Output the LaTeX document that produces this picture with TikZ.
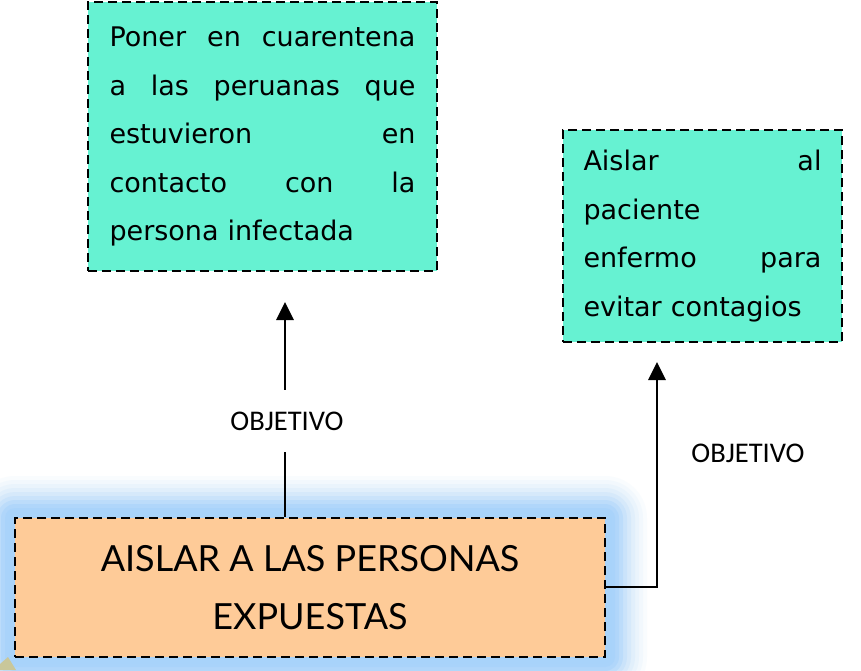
\documentclass[tikz,border=0pt]{standalone}
\usepackage{fontspec}
\setmainfont{DejaVu Sans}
\newfontfamily\labfont{Carlito}
\newfontfamily\capfont{Lato}
\usetikzlibrary{arrows.meta,calc}
\definecolor{aqua}{HTML}{66F2D2}
\definecolor{peach}{HTML}{FECB98}
\definecolor{glowblue}{HTML}{A8D3FA}
\definecolor{olivebit}{HTML}{C9C79A}
\newcommand{\jl}[2]{\leavevmode\hbox to #1{#2}}
\begin{document}
\begin{tikzpicture}[x=1pt,y=-1pt,
  boxstyle/.style={draw=black,line width=2.8pt,dash pattern=on 9pt off 5pt,inner sep=0pt},
  conn/.style={draw=black,line width=2.8pt},
  arrowtip/.style={-{Triangle[length=18pt,width=17pt]}},
  labstyle/.style={font=\labfont\fontsize{28.5}{32}\selectfont,text=black}]
\useasboundingbox (0,0) rectangle (861,670);
\fill[white] (0,0) rectangle (861,670);
% glow
\begin{scope}
\clip (0,0) rectangle (861,670);
\foreach \e/\o in {42/0.06,38/0.08,34/0.10,30/0.13,26/0.18,22/0.26,18/0.4,14/0.6,10/0.85,6/1}{
  \fill[glowblue,opacity=\o,rounded corners=\e pt] (15-\e,518-\e) rectangle (605+\e,657+\e);
}
\fill[olivebit] (0,664) -- (8,657) -- (16,670) -- (0,670) -- cycle;
\end{scope}
% nodes
\node[boxstyle,fill=aqua,minimum width=349pt,minimum height=269pt] (top) at (262.5,136.5) {};
\node[align=left,text width=306pt,font=\fontsize{27}{48.5}\selectfont,inner sep=0pt] (toptext) at (top.center) {%
\jl{306pt}{Poner\hfill en\hfill cuarentena}\\\jl{306pt}{a\hfill las\hfill peruanas\hfill que}\\\jl{306pt}{estuvieron\hfill en}\\\jl{306pt}{contacto\hfill con\hfill la}\\persona infectada};
\node[boxstyle,fill=aqua,minimum width=279pt,minimum height=212pt] (right) at (702.5,236) {};
\node[align=left,text width=238pt,font=\fontsize{27}{48.5}\selectfont,inner sep=0pt] (righttext) at (right.center) {%
\jl{238pt}{Aislar\hfill al}\\paciente\\\jl{238pt}{enfermo\hfill para}\\evitar contagios};
\node[boxstyle,fill=peach,minimum width=590pt,minimum height=139pt,align=center,
  font=\capfont\fontsize{36}{58}\selectfont] (bot) at (310,587.5) {AISLAR A LAS PERSONAS\\EXPUESTAS};
% connectors
\coordinate (lbase) at (bot.north -| 285,0);
\coordinate (ltip) at (285,302);
\draw[conn,arrowtip] (lbase) -- (ltip);
\node[labstyle,fill=white,minimum height=62pt,inner xsep=1pt] (lab1) at (287,421) {OBJETIVO};
\coordinate (rcorner) at (657,587);
\coordinate (rtip) at (657,362);
\draw[conn,arrowtip] (bot.east |- rcorner) -- (rcorner) -- (rtip);
\node[labstyle] (lab2) at (748,453) {OBJETIVO};
\end{tikzpicture}
\end{document}
